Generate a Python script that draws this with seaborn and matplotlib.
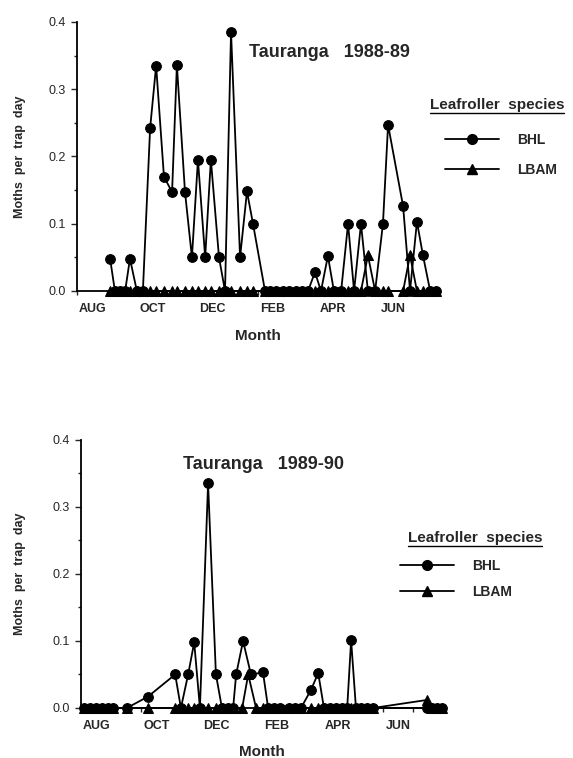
import pandas as pd
import numpy as np
import matplotlib
matplotlib.use('Agg')
import matplotlib.pyplot as plt
from matplotlib.lines import Line2D
from matplotlib.ticker import MultipleLocator, FixedLocator
import seaborn as sns

sns.set_style('ticks')
plt.rcParams['font.family'] = ['Liberation Sans', 'DejaVu Sans']

# eixo x em meses desde 1 de Agosto (0 = 1 Ago, 12 = fim de Julho)
month_ticks = [0.5, 2.5, 4.5, 6.5, 8.5, 10.5]
month_labels = ['AUG', 'OCT', 'DEC', 'FEB', 'APR', 'JUN']
species = ['BHL', 'LBAM']

# 1. Dados Tauranga 1988-89
x_8889 = [1.10, 1.26, 1.43, 1.60, 1.76, 1.99, 2.19, 2.43, 2.63, 2.89, 3.16, 3.32,
          3.59, 3.82, 4.02, 4.26, 4.45, 4.72, 4.92, 5.12, 5.42, 5.65, 5.85, 6.25,
          6.42, 6.62, 6.85, 7.05, 7.28, 7.48, 7.68, 7.91, 8.11, 8.34, 8.54, 8.78,
          9.01, 9.21, 9.44, 9.67, 9.91, 10.17, 10.34, 10.84, 11.07, 11.30, 11.50,
          11.74, 11.94]
bhl_8889 = [0.048, 0, 0, 0, 0.048, 0, 0, 0.242, 0.335, 0.170, 0.147, 0.336,
            0.147, 0.050, 0.195, 0.050, 0.195, 0.050, 0, 0.385, 0.050, 0.148, 0.100, 0,
            0, 0, 0, 0, 0, 0, 0, 0.028, 0, 0.052, 0, 0,
            0.100, 0, 0.100, 0, 0, 0.100, 0.247, 0.126, 0, 0.103, 0.053,
            0, 0]
lbam_8889 = [0, 0, 0, 0, 0, 0, 0, 0, 0, 0, 0, 0,
             0, 0, 0, 0, 0, 0, 0, 0, 0, 0, 0, 0,
             0, 0, 0, 0, 0, 0, 0, 0, 0, 0, 0, 0,
             0, 0, 0, 0.053, 0, 0, 0, 0, 0.053, 0, 0,
             0, 0]

# 2. Dados Tauranga 1989-90
x_bhl_8990 = [0.10, 0.30, 0.50, 0.70, 0.89, 1.06, 1.52, 2.22, 3.12, 3.31, 3.55, 3.75,
              3.94, 4.21, 4.47, 4.67, 4.87, 5.04, 5.14, 5.37, 5.63, 6.03, 6.20, 6.40,
              6.60, 6.89, 7.09, 7.29, 7.62, 7.86, 8.05, 8.25, 8.45, 8.65, 8.82, 8.95,
              9.11, 9.28, 9.48, 9.68, 11.47, 11.63, 11.80, 11.97]
bhl_8990 = [0, 0, 0, 0, 0, 0, 0, 0.017, 0.050, 0, 0.050, 0.098,
            0, 0.335, 0.050, 0, 0, 0, 0.050, 0.100, 0.050, 0.053, 0, 0,
            0, 0, 0, 0, 0.027, 0.052, 0, 0, 0, 0, 0, 0.101,
            0, 0, 0, 0, 0, 0, 0, 0]
x_lbam_8990 = [0.10, 0.30, 0.50, 0.70, 0.89, 1.06, 1.52, 2.22, 3.12, 3.31, 3.55, 3.75,
               3.94, 4.21, 4.47, 4.67, 4.87, 5.04, 5.34, 5.54, 5.80, 6.03, 6.20, 6.40,
               6.60, 6.89, 7.09, 7.29, 7.62, 7.86, 8.05, 8.25, 8.45, 8.65, 8.82, 8.95,
               9.11, 9.28, 9.48, 9.68, 11.47, 11.63, 11.80, 11.97]
lbam_8990 = [0, 0, 0, 0, 0, 0, 0, 0, 0, 0, 0, 0,
             0, 0, 0, 0, 0, 0, 0, 0.050, 0, 0, 0, 0,
             0, 0, 0, 0, 0, 0, 0, 0, 0, 0, 0, 0,
             0, 0, 0, 0, 0.012, 0, 0, 0]

df_8889 = pd.concat([
    pd.DataFrame({'Month': x_8889, 'Moths': bhl_8889, 'Species': 'BHL'}),
    pd.DataFrame({'Month': x_8889, 'Moths': lbam_8889, 'Species': 'LBAM'}),
])
df_8990 = pd.concat([
    pd.DataFrame({'Month': x_bhl_8990, 'Moths': bhl_8990, 'Species': 'BHL'}),
    pd.DataFrame({'Month': x_lbam_8990, 'Moths': lbam_8990, 'Species': 'LBAM'}),
])

fig = plt.figure(figsize=(5.73, 7.58), dpi=100)
ax1 = fig.add_axes([0.1344, 0.6161, 0.630, 0.3549])
ax2 = fig.add_axes([0.1414, 0.066, 0.632, 0.3536])


def painel(ax, df, titulo, tx, ty, leg_x, leg_y, leg_gap, tit_x, tit_y, tit_w):
    sns.lineplot(data=df, x='Month', y='Moths', hue='Species', style='Species',
                 markers={'BHL': 'o', 'LBAM': '^'}, dashes=False,
                 palette={'BHL': 'black', 'LBAM': 'black'}, estimator=None,
                 linewidth=1.3, markersize=7, markeredgecolor='black',
                 clip_on=False, legend=False, ax=ax)
    ax.set_xlim(0, 12)
    ax.set_ylim(0, 0.4)
    ax.yaxis.set_minor_locator(MultipleLocator(0.05))
    ax.set_yticks([0, 0.1, 0.2, 0.3, 0.4])
    ax.set_yticklabels(['0.0', '0.1', '0.2', '0.3', '0.4'], fontsize=9)
    ax.set_xticks(month_ticks)
    ax.set_xticklabels(month_labels, fontsize=9, fontweight='bold')
    ax.xaxis.set_minor_locator(FixedLocator(range(0, 13)))
    ax.tick_params(axis='x', which='major', length=0, pad=9)
    ax.tick_params(axis='x', which='minor', length=3, width=1, direction='out')
    ax.tick_params(axis='y', which='major', length=4, width=1, pad=4)
    ax.tick_params(axis='y', which='minor', length=2.5, width=1)
    for s in ['top', 'right']:
        ax.spines[s].set_visible(False)
    for s in ['left', 'bottom']:
        ax.spines[s].set_linewidth(1.3)
        ax.spines[s].set_color('black')
    ax.set_xlabel('Month', fontsize=11, fontweight='bold')
    ax.set_ylabel('Moths  per  trap  day', fontsize=9, fontweight='bold')
    ax.xaxis.set_label_coords(0.5, -0.14)
    ax.text(tx, ty, titulo, transform=ax.transAxes, fontsize=13, fontweight='bold',
            ha='center', va='center')

    handles = [Line2D([], [], color='black', marker='o', lw=1.3, ms=7),
               Line2D([], [], color='black', marker='^', lw=1.3, ms=7)]
    ax.legend(handles, species, loc='center left', bbox_to_anchor=(leg_x, leg_y),
              bbox_transform=fig.transFigure, frameon=False, numpoints=1,
              prop={'weight': 'bold', 'size': 10}, handlelength=3.9,
              handletextpad=1.3, labelspacing=leg_gap, borderpad=0, borderaxespad=0)
    fig.text(tit_x, tit_y, 'Leafroller  species', fontsize=11, fontweight='bold',
             ha='left', va='center')
    fig.add_artist(Line2D([tit_x, tit_x + tit_w], [tit_y - 0.0105, tit_y - 0.0105],
                          transform=fig.transFigure, color='black', lw=1))


painel(ax1, df_8889, 'Tauranga   1988-89', 0.70, 0.888,
       445 / 573, 1 - 155 / 758, 1.1, 430 / 573, 1 - 105 / 758, 134 / 573)
painel(ax2, df_8990, 'Tauranga   1989-90', 0.503, 0.907,
       400 / 573, 1 - 579 / 758, 0.85, 408 / 573, 1 - 538 / 758, 134 / 573)
ax1.yaxis.set_label_coords(-0.14, 0.5)
ax2.yaxis.set_label_coords(-0.151, 0.5)

plt.savefig('out.png', dpi=100)
